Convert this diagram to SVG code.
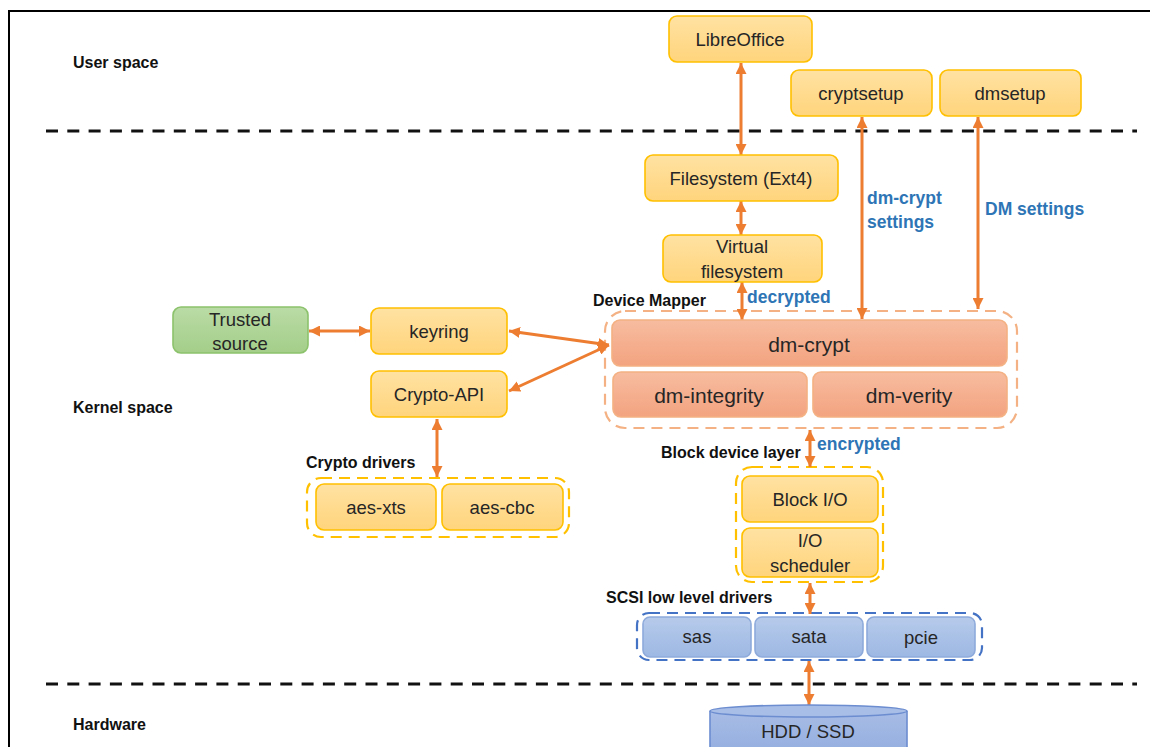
<svg xmlns="http://www.w3.org/2000/svg" width="1150" height="747" viewBox="0 0 1150 747">
  <defs>
    <linearGradient id="gYellow" x1="0" y1="0" x2="0" y2="1">
      <stop offset="0" stop-color="#FFE2A2"/>
      <stop offset="1" stop-color="#FFD47C"/>
    </linearGradient>
    <linearGradient id="gOrange" x1="0" y1="0" x2="0" y2="1">
      <stop offset="0" stop-color="#F7BCA0"/>
      <stop offset="1" stop-color="#F3A37F"/>
    </linearGradient>
    <linearGradient id="gBlue" x1="0" y1="0" x2="0" y2="1">
      <stop offset="0" stop-color="#B7CBEB"/>
      <stop offset="1" stop-color="#9DB8E3"/>
    </linearGradient>
    <linearGradient id="gGreen" x1="0" y1="0" x2="0" y2="1">
      <stop offset="0" stop-color="#BADBA6"/>
      <stop offset="1" stop-color="#A3CE89"/>
    </linearGradient>
    <linearGradient id="gDisk" x1="0" y1="0" x2="0" y2="1">
      <stop offset="0" stop-color="#A8BDE6"/>
      <stop offset="1" stop-color="#94AEDF"/>
    </linearGradient>
    <marker id="arrow" viewBox="0 0 10 10" refX="10" refY="5" markerWidth="11" markerHeight="11" markerUnits="userSpaceOnUse" orient="auto-start-reverse">
      <path d="M0,0 L10,5 L0,10 z" fill="#ED7D31"/>
    </marker>
    <style>
      .frame { fill: none; stroke: #000; stroke-width: 2; }
      .sep { fill: none; stroke: #111; stroke-width: 3; stroke-dasharray: 12 9.3; }
      .box { stroke-width: 1.6; }
      .yellow { fill: url(#gYellow); stroke: #FFC000; }
      .orange { fill: url(#gOrange); stroke: #F4B183; }
      .blue { fill: url(#gBlue); stroke: #8EAADB; }
      .green { fill: url(#gGreen); stroke: #8CC26C; }
      .grp { fill: none; stroke-width: 2.2; stroke-dasharray: 11 7; }
      .t { font-family: "Liberation Sans", Arial, sans-serif; font-size: 18.5px; fill: #262626; text-anchor: middle; dominant-baseline: central; }
      .tl { font-size: 21px; }
      .lbl { font-family: "Liberation Sans", Arial, sans-serif; font-size: 16px; font-weight: bold; fill: #111; }
      .note { font-family: "Liberation Sans", Arial, sans-serif; font-size: 17.5px; font-weight: bold; fill: #2E75B6; }
      .conn { fill: none; stroke: #ED7D31; stroke-width: 3; marker-start: url(#arrow); marker-end: url(#arrow); }
    </style>
  </defs>

  <rect width="1150" height="747" fill="#fff"/>

  <!-- outer frame and layer separators -->
  <path class="frame" d="M9,747 V11 H1150"/>
  <line class="sep" x1="46" y1="131" x2="1137" y2="131"/>
  <line class="sep" x1="46" y1="684" x2="1137" y2="684"/>

  <!-- layer titles -->
  <text class="lbl" x="73" y="68">User space</text>
  <text class="lbl" x="73" y="413">Kernel space</text>
  <text class="lbl" x="73" y="730">Hardware</text>

  <!-- group labels -->
  <text class="lbl" x="593" y="306">Device Mapper</text>
  <text class="lbl" x="306" y="468">Crypto drivers</text>
  <text class="lbl" x="661" y="458">Block device layer</text>
  <text class="lbl" x="606" y="603">SCSI low level drivers</text>

  <!-- dashed group outlines -->
  <rect class="grp" x="605" y="311" width="412" height="117" rx="20" stroke="#F4B183"/>
  <rect class="grp" x="307" y="478" width="262" height="59" rx="14" stroke="#FFC000"/>
  <rect class="grp" x="736" y="467" width="147" height="115" rx="16" stroke="#FFC000"/>
  <rect class="grp" x="637" y="613" width="345" height="47" rx="12" stroke="#4472C4"/>

  <!-- connectors -->
  <g id="connectors">
    <path class="conn" d="M741,63 V155"/>
    <path class="conn" d="M741,201 V235"/>
    <path class="conn" d="M742,282 V320"/>
    <path class="conn" d="M862,117 V319"/>
    <path class="conn" d="M978,117 V309"/>
    <path class="conn" d="M309,331 H370"/>
    <path class="conn" d="M509,331 L609,345"/>
    <path class="conn" d="M509,391 L609,345"/>
    <path class="conn" d="M437,419 V477"/>
    <path class="conn" d="M810,430 V467"/>
    <path class="conn" d="M810,583 V614"/>
    <path class="conn" d="M809,661 V705"/>
  </g>

  <!-- connector notes -->
  <text class="note" x="747" y="303">decrypted</text>
  <text class="note" x="817" y="450">encrypted</text>
  <text class="note" x="867" y="204">dm-crypt</text>
  <text class="note" x="867" y="228">settings</text>
  <text class="note" x="985" y="215">DM settings</text>

  <!-- user space -->
  <g id="libreoffice">
    <rect class="box yellow" x="669" y="16" width="143" height="46" rx="8"/>
    <text class="t" x="740" y="39">LibreOffice</text>
  </g>
  <g id="cryptsetup">
    <rect class="box yellow" x="791" y="70" width="141" height="46" rx="8"/>
    <text class="t" x="861" y="93">cryptsetup</text>
  </g>
  <g id="dmsetup">
    <rect class="box yellow" x="940" y="70" width="141" height="46" rx="8"/>
    <text class="t" x="1010" y="93">dmsetup</text>
  </g>

  <!-- kernel space -->
  <g id="filesystem">
    <rect class="box yellow" x="645" y="155" width="193" height="46" rx="8"/>
    <text class="t" x="741" y="178">Filesystem (Ext4)</text>
  </g>
  <g id="vfs">
    <rect class="box yellow" x="663" y="235" width="159" height="47" rx="8"/>
    <text class="t" x="742" y="246">Virtual</text>
    <text class="t" x="742" y="271">filesystem</text>
  </g>
  <g id="trusted-source">
    <rect class="box green" x="173" y="307" width="135" height="46" rx="8"/>
    <text class="t" x="240" y="319">Trusted</text>
    <text class="t" x="240" y="343">source</text>
  </g>
  <g id="keyring">
    <rect class="box yellow" x="371" y="308" width="136" height="46" rx="8"/>
    <text class="t" x="439" y="331">keyring</text>
  </g>
  <g id="crypto-api">
    <rect class="box yellow" x="371" y="371" width="136" height="46" rx="8"/>
    <text class="t" x="439" y="394">Crypto-API</text>
  </g>
  <g id="dm-crypt">
    <rect class="box orange" x="612" y="320" width="395" height="46" rx="8"/>
    <text class="t tl" x="809" y="344">dm-crypt</text>
  </g>
  <g id="dm-integrity">
    <rect class="box orange" x="613" y="372" width="194" height="45" rx="8"/>
    <text class="t tl" x="709" y="395">dm-integrity</text>
  </g>
  <g id="dm-verity">
    <rect class="box orange" x="813" y="372" width="194" height="45" rx="8"/>
    <text class="t tl" x="909" y="395">dm-verity</text>
  </g>
  <g id="aes-xts">
    <rect class="box yellow" x="316" y="484" width="120" height="46" rx="8"/>
    <text class="t" x="376" y="507">aes-xts</text>
  </g>
  <g id="aes-cbc">
    <rect class="box yellow" x="442" y="484" width="121" height="46" rx="8"/>
    <text class="t" x="502" y="507">aes-cbc</text>
  </g>
  <g id="block-io">
    <rect class="box yellow" x="742" y="476" width="136" height="46" rx="8"/>
    <text class="t" x="810" y="499">Block I/O</text>
  </g>
  <g id="io-scheduler">
    <rect class="box yellow" x="742" y="528" width="136" height="49" rx="8"/>
    <text class="t" x="810" y="540">I/O</text>
    <text class="t" x="810" y="565">scheduler</text>
  </g>
  <g id="sas">
    <rect class="box blue" x="643" y="617" width="108" height="40" rx="7"/>
    <text class="t" x="697" y="636">sas</text>
  </g>
  <g id="sata">
    <rect class="box blue" x="755" y="617" width="108" height="40" rx="7"/>
    <text class="t" x="809" y="636">sata</text>
  </g>
  <g id="pcie">
    <rect class="box blue" x="867" y="617" width="108" height="40" rx="7"/>
    <text class="t" x="921" y="637">pcie</text>
  </g>

  <!-- hardware -->
  <g id="disk">
    <path d="M710,711 V752 H907 V711" fill="url(#gDisk)" stroke="#6C8DD0" stroke-width="1.6"/>
    <ellipse cx="808.5" cy="711" rx="98.5" ry="6" fill="#A9BEE7" stroke="#6C8DD0" stroke-width="1.6"/>
    <text class="t" x="808" y="731">HDD / SSD</text>
  </g>
</svg>
